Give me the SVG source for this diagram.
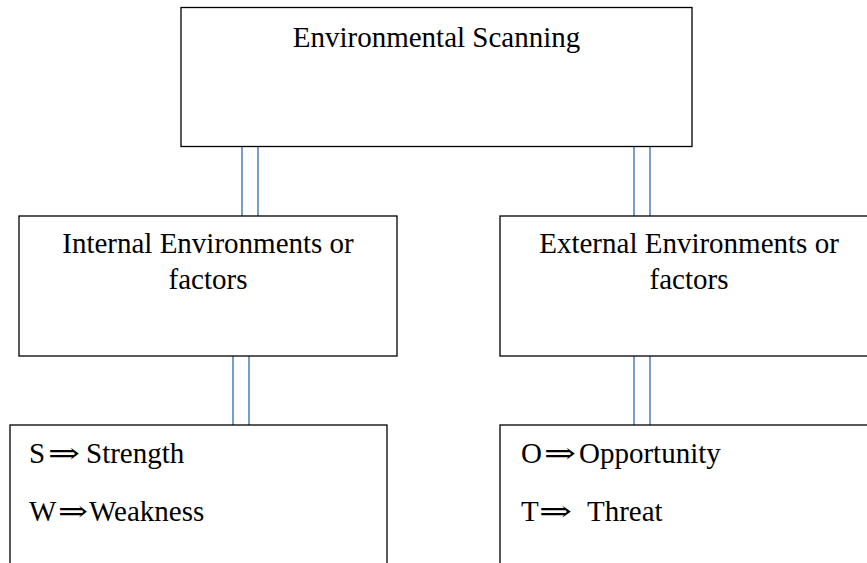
<svg xmlns="http://www.w3.org/2000/svg" width="867" height="563" viewBox="0 0 867 563">
<style>
.box{fill:#fff;stroke:#000;stroke-width:1.3}
.t{font-family:"Liberation Serif","Times New Roman",serif;font-size:29px;fill:#000}
.c{text-anchor:middle}
.ar{font-family:"DejaVu Serif","DejaVu Sans",serif}
.ln{stroke:#4A7EBB;stroke-width:1.5;fill:none}
</style>
<rect width="867" height="563" fill="#fff"/>
<g id="connectors">
<line class="ln" x1="242" y1="147" x2="242" y2="216"/>
<line class="ln" x1="258" y1="147" x2="258" y2="216"/>
<line class="ln" x1="634" y1="147" x2="634" y2="216"/>
<line class="ln" x1="650" y1="147" x2="650" y2="216"/>
<line class="ln" x1="233" y1="356" x2="233" y2="425"/>
<line class="ln" x1="249" y1="356" x2="249" y2="425"/>
<line class="ln" x1="634" y1="356" x2="634" y2="425"/>
<line class="ln" x1="650" y1="356" x2="650" y2="425"/>
</g>
<g id="scanning">
<rect class="box" x="181" y="7.5" width="511" height="139"/>
<text class="t c" x="436.5" y="47">Environmental Scanning</text>
</g>
<g id="internal">
<rect class="box" x="19" y="216" width="378" height="140"/>
<text class="t c" x="208" y="253">Internal Environments or</text>
<text class="t c" x="208" y="289">factors</text>
</g>
<g id="external">
<rect class="box" x="500" y="216" width="380" height="140"/>
<text class="t c" x="689" y="253">External Environments or</text>
<text class="t c" x="689" y="289">factors</text>
</g>
<g id="sw">
<rect class="box" x="10" y="425" width="377" height="150"/>
<text class="t" x="29" y="463">S<tspan class="ar" x="48" textLength="32" lengthAdjust="spacingAndGlyphs">⇒</tspan><tspan x="86">Strength</tspan></text>
<text class="t" x="29" y="521">W<tspan class="ar" x="58" textLength="30" lengthAdjust="spacingAndGlyphs">⇒</tspan><tspan x="89">Weakness</tspan></text>
</g>
<g id="ot">
<rect class="box" x="500" y="425" width="380" height="150"/>
<text class="t" x="521" y="463">O<tspan class="ar" x="544" textLength="32" lengthAdjust="spacingAndGlyphs">⇒</tspan><tspan x="579">Opportunity</tspan></text>
<text class="t" x="521" y="521">T<tspan class="ar" x="539" textLength="33" lengthAdjust="spacingAndGlyphs">⇒</tspan><tspan x="587">Threat</tspan></text>
</g>
</svg>
